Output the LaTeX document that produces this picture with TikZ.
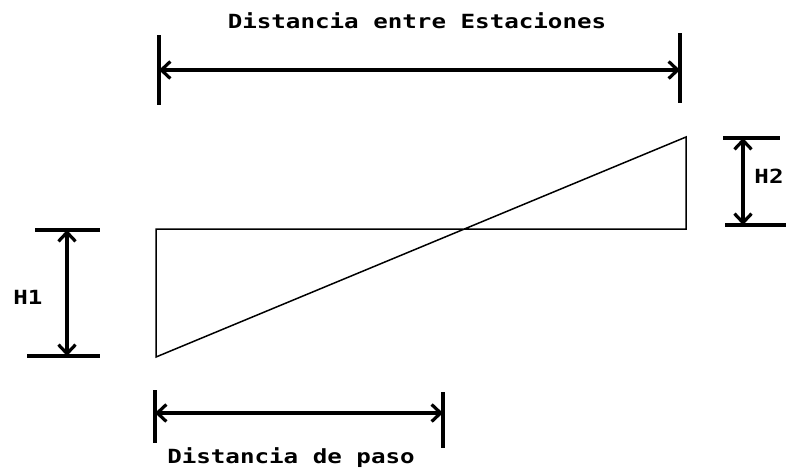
\documentclass[tikz,border=0pt]{standalone}
\usepackage{fontspec}
\newfontfamily\dimfont[FakeStretch=1.24]{DejaVu Sans Mono}
\usetikzlibrary{arrows.meta}

\begin{document}
\begin{tikzpicture}[x=1pt, y=-1pt,
    dimline/.style={line width=3.2pt, {Straight Barb[length=9pt, width=17pt]}-{Straight Barb[length=9pt, width=17pt]}},
    tick/.style={line width=3.2pt},
    profile/.style={line width=1.5pt},
    lbl/.style={font=\dimfont\bfseries\fontsize{19.5}{22}\selectfont, inner sep=0pt, anchor=base}]
    \useasboundingbox (0,0) rectangle (786,472);

    % profile between stations
    \coordinate (bl) at (156,357);
    \coordinate (tl) at (156,229);
    \coordinate (br) at (686,229);
    \coordinate (tr) at (686,137);
    \draw [profile] (bl) -- (tl) -- (br) -- (tr) -- cycle;

    % distance between stations
    \coordinate (e1a) at (159,35);  \coordinate (e1b) at (159,105);
    \coordinate (e2a) at (680,33);  \coordinate (e2b) at (680,103);
    \coordinate (e1) at (159,70);   \coordinate (e2) at (680,70);
    \draw [tick] (e1a) -- (e1b);
    \draw [tick] (e2a) -- (e2b);
    \draw [dimline] (e1) -- (e2);
    \node [lbl] (dist) at (417,28) {Distancia entre Estaciones};

    % H1
    \coordinate (h1a) at (35,230);  \coordinate (h1b) at (100,230);
    \coordinate (h1c) at (27,356);  \coordinate (h1d) at (100,356);
    \coordinate (h1t) at (67,230);  \coordinate (h1u) at (67,356);
    \draw [tick] (h1a) -- (h1b);
    \draw [tick] (h1c) -- (h1d);
    \draw [dimline] (h1t) -- (h1u);
    \node [lbl] (hone) at (28,304) {H1};

    % H2
    \coordinate (h2a) at (723,138); \coordinate (h2b) at (780,138);
    \coordinate (h2c) at (725,225); \coordinate (h2d) at (786,225);
    \coordinate (h2t) at (743,138); \coordinate (h2u) at (743,225);
    \draw [tick] (h2a) -- (h2b);
    \draw [tick] (h2c) -- (h2d);
    \draw [dimline] (h2t) -- (h2u);
    \node [lbl] (htwo) at (769,183) {H2};

    % step distance
    \coordinate (p1a) at (155,390); \coordinate (p1b) at (155,443);
    \coordinate (p2a) at (443,392); \coordinate (p2b) at (443,448);
    \coordinate (p1) at (155,413);  \coordinate (p2) at (443,413);
    \draw [tick] (p1a) -- (p1b);
    \draw [tick] (p2a) -- (p2b);
    \draw [dimline] (p1) -- (p2);
    \node [lbl] (paso) at (291,463) {Distancia de paso};
\end{tikzpicture}
\end{document}
